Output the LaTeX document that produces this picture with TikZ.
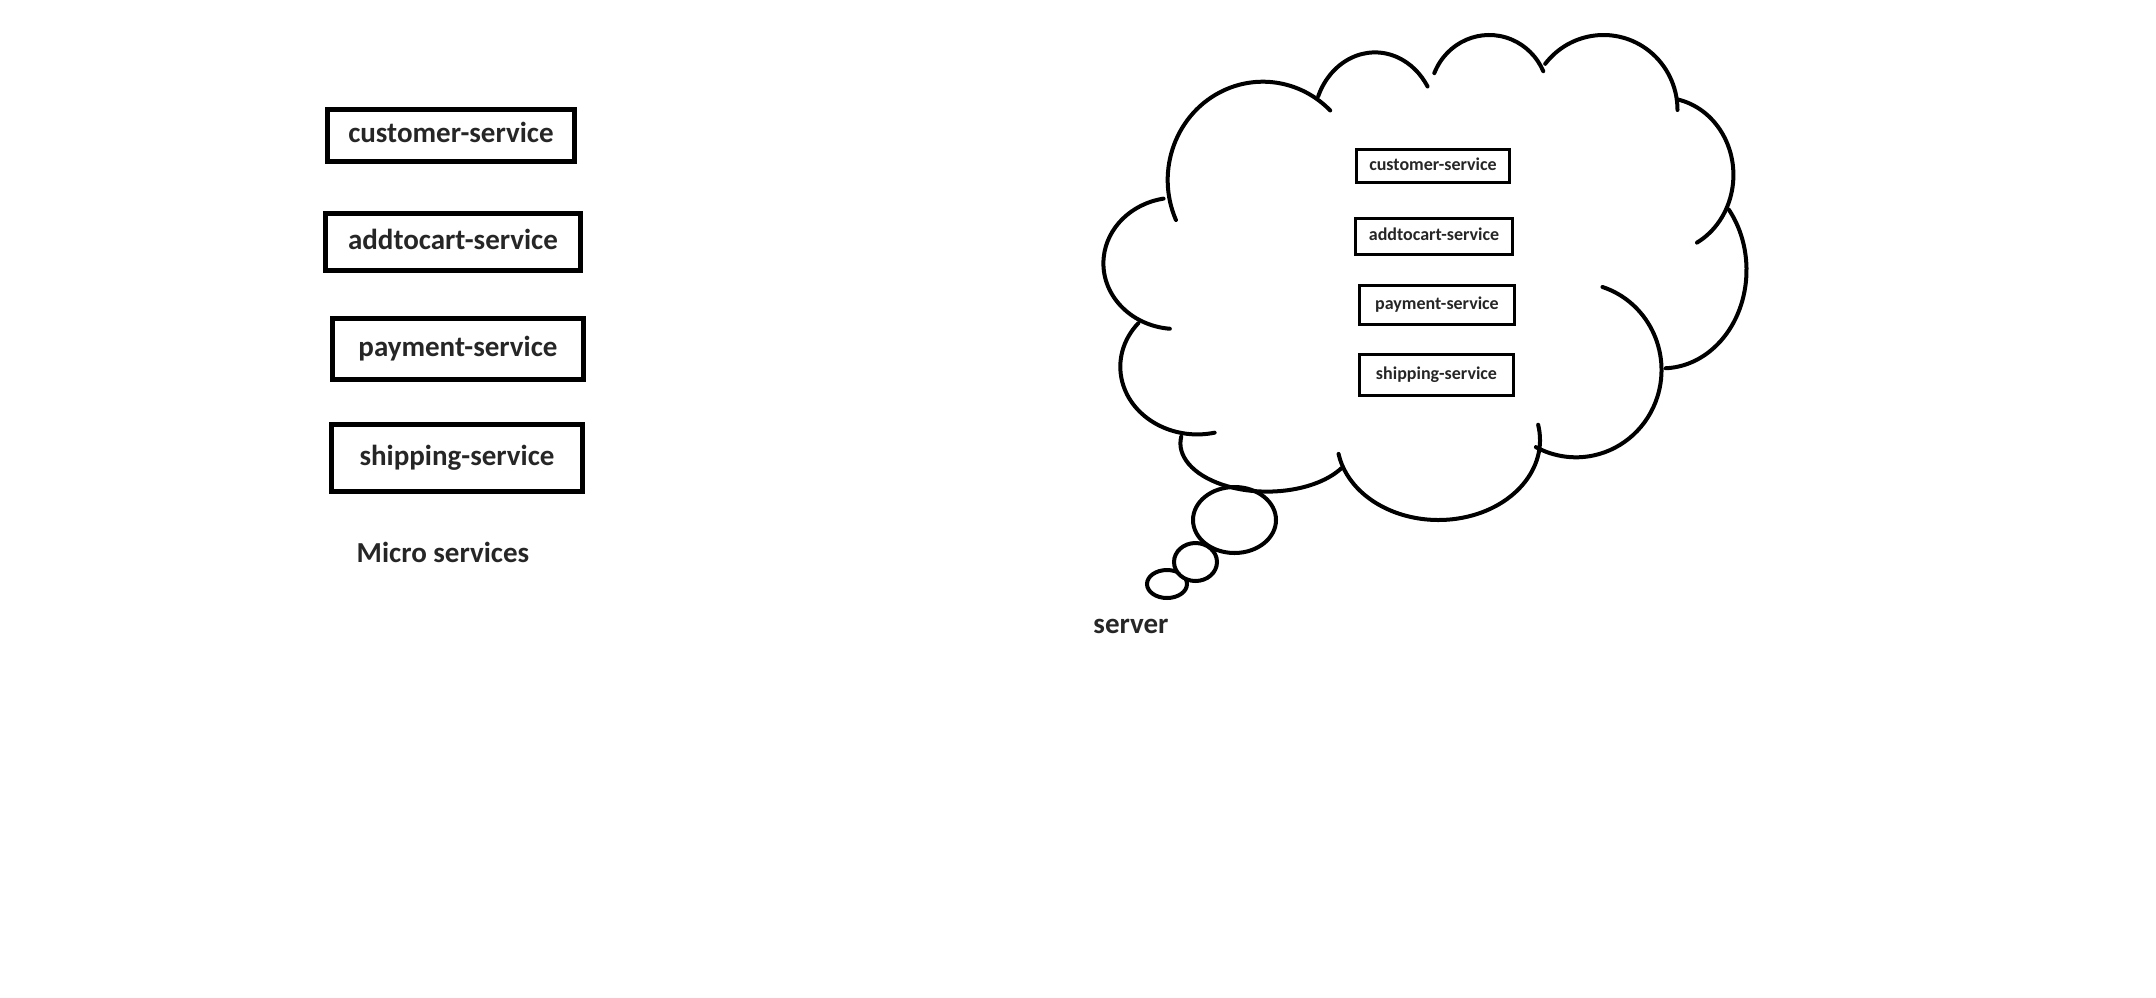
\documentclass[tikz,border=0pt]{standalone}
\usepackage{fontspec}
\setmainfont{Carlito}
\tikzset{svc/.style={draw=black, line width=4.6pt, inner sep=0pt, text=black!85,
   font=\bfseries\fontsize{29}{34}\selectfont, text height=21.5pt, text depth=7.5pt},
 small svc/.style={svc, line width=3pt, font=\bfseries\fontsize{18}{22}\selectfont,
   text height=13.5pt, text depth=5pt},
 caption/.style={inner sep=0pt, anchor=base, text=black!85,
   font=\bfseries\fontsize{29}{34}\selectfont},
 cloud line/.style={draw=black, line width=4pt, line cap=round},
 bubble/.style={draw=black, line width=4pt, fill=white},
 }

\begin{document}
\begin{tikzpicture}[x=1pt,y=-1pt]
        \useasboundingbox (0,0) rectangle (2156,997);
        \node[svc, minimum width=247.4, minimum height=52.4] (cust) at (451,135.5) {customer-service};
        \node[svc, minimum width=255.4, minimum height=57.4] (cart) at (453,242) {addtocart-service};
        \node[svc, minimum width=251.4, minimum height=61.4] (pay) at (458,349) {payment-service};
        \node[svc, minimum width=251.4, minimum height=67.4] (ship) at (457,458) {shipping-service};
        \node[caption] (micro) at (443,562) {Micro services};

        \draw[bubble] (1167,584) ellipse [x radius=20, y radius=14];
        \draw[bubble] (1195.5,562) ellipse [x radius=21.5, y radius=19];
        \draw[bubble] (1234.5,520) ellipse [x radius=41.5, y radius=33];
        \draw[cloud line] (1262.9,180) ++(156:95.2 and 98.3) arc[start angle=156, end angle=315, x radius=95.2, y radius=98.3];
        \draw[cloud line] (1375,122.7) ++(202:61.3 and 70.3) arc[start angle=202, end angle=329, x radius=61.3, y radius=70.3];
        \draw[cloud line] (1489.2,96) ++(202:59.2 and 61) arc[start angle=202, end angle=336, x radius=59.2, y radius=61];
        \draw[cloud line] (1603.5,110) ++(218:74 and 75) arc[start angle=218, end angle=360, x radius=74, y radius=75];
        \draw[cloud line] (1662.7,175) ++(282:70.7 and 77.3) arc[start angle=282, end angle=421, x radius=70.7, y radius=77.3];
        \draw[cloud line] (1662.7,270) ++(322:83.8 and 98.3) arc[start angle=322, end angle=448, x radius=83.8, y radius=98.3];
        \draw[cloud line] (1576,370) ++(288:85.5 and 87.3) arc[start angle=288, end angle=478, x radius=85.5, y radius=87.3];
        \draw[cloud line] (1438.5,440) ++(-11:101.5 and 80) arc[start angle=-11, end angle=170, x radius=101.5, y radius=80];
        \draw[cloud line] (1267.1,443.3) ++(31:86.7 and 48.3) arc[start angle=31, end angle=188, x radius=86.7, y radius=48.3];
        \draw[cloud line] (1197.3,366.7) ++(77:77 and 67.7) arc[start angle=77, end angle=220, x radius=77, y radius=67.7];
        \draw[cloud line] (1176.2,263.3) ++(95:72.8 and 65.7) arc[start angle=95, end angle=260, x radius=72.8, y radius=65.7];

        \node[small svc, minimum width=153, minimum height=33] (cust-in) at (1433,166) {customer-service};
        \node[small svc, minimum width=157, minimum height=36] (cart-in) at (1434,236.5) {addtocart-service};
        \node[small svc, minimum width=155, minimum height=39] (pay-in) at (1437,305) {payment-service};
        \node[small svc, minimum width=154, minimum height=41] (ship-in) at (1436.5,375) {shipping-service};
        \node[caption] (server) at (1131,633) {server};
    \end{tikzpicture}
\end{document}
